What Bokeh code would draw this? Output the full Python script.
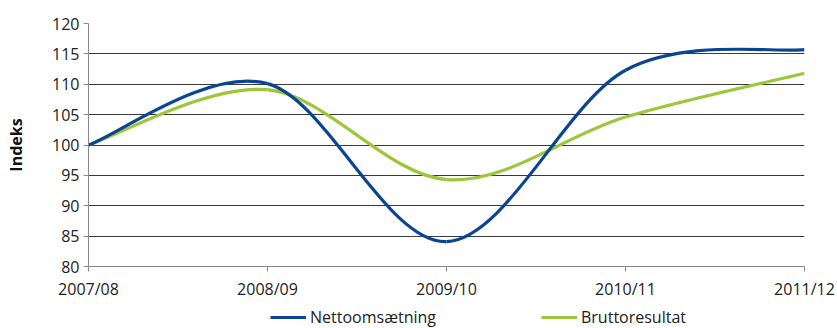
from bokeh.plotting import figure
from bokeh.layouts import column
from bokeh.models import (Range1d, FixedTicker, Legend, LegendItem, ColumnDataSource)
from bokeh.embed import file_html
from bokeh.resources import INLINE

categories = ["2007/08", "2008/09", "2009/10", "2010/11", "2011/12"]
netto = [100.0, 110.1, 84.1, 112.3, 115.7]
brutto = [100.0, 109.1, 94.3, 104.6, 111.8]
y_ticks = [80, 85, 90, 95, 100, 105, 110, 115, 120]
series_names = ["Nettoomsætning", "Bruttoresultat"]

BLUE = "#0a4592"
GREEN = "#9dc63a"
FONT = "Open Sans"

xs = list(range(len(categories)))


def bezier_source(ys):
    """Excel-style smoothed line: cubic Bezier segments through the data points."""
    n = len(ys)
    d = dict(x0=[], y0=[], x1=[], y1=[], cx0=[], cy0=[], cx1=[], cy1=[])
    for i in range(n - 1):
        p0 = (xs[max(i - 1, 0)], ys[max(i - 1, 0)])
        p1 = (xs[i], ys[i])
        p2 = (xs[i + 1], ys[i + 1])
        p3 = (xs[min(i + 2, n - 1)], ys[min(i + 2, n - 1)])
        d["x0"].append(p1[0]); d["y0"].append(p1[1])
        d["x1"].append(p2[0]); d["y1"].append(p2[1])
        d["cx0"].append(p1[0] + (p2[0] - p0[0]) / 6)
        d["cy0"].append(p1[1] + (p2[1] - p0[1]) / 6)
        d["cx1"].append(p2[0] - (p3[0] - p1[0]) / 6)
        d["cy1"].append(p2[1] - (p3[1] - p1[1]) / 6)
    return ColumnDataSource(d)


p = figure(width=837, height=303, output_backend="svg", toolbar_location=None,
           x_range=Range1d(0, 4), y_range=Range1d(80, 120),
           min_border_left=88, min_border_right=33, min_border_top=23,
           min_border_bottom=37)
p.outline_line_color = None
p.background_fill_color = "white"

p.xgrid.grid_line_color = None
p.ygrid.grid_line_color = "#3a3a3a"
p.ygrid.grid_line_width = 1
p.ygrid.ticker = FixedTicker(ticks=y_ticks)

p.yaxis.ticker = FixedTicker(ticks=y_ticks)
p.xaxis.ticker = FixedTicker(ticks=xs)
p.xaxis.major_label_overrides = {i: c for i, c in enumerate(categories)}

for ax in (p.xaxis[0], p.yaxis[0]):
    ax.axis_line_color = "#8a8a8a"
    ax.major_tick_line_color = "#8a8a8a"
    ax.major_tick_in = 0
    ax.major_tick_out = 5
    ax.minor_tick_line_color = None
    ax.major_label_text_font = FONT
    ax.major_label_text_font_size = "16px"
    ax.major_label_text_color = "#222222"

p.xaxis.major_label_standoff = 6
p.yaxis.major_label_standoff = 4
p.yaxis.axis_label = "Indeks"
p.yaxis.axis_label_text_font = FONT
p.yaxis.axis_label_text_font_style = "bold"
p.yaxis.axis_label_text_font_size = "16px"
p.yaxis.axis_label_text_color = "#111111"
p.yaxis.axis_label_standoff = 22

p.bezier(x0="x0", y0="y0", x1="x1", y1="y1", cx0="cx0", cy0="cy0", cx1="cx1", cy1="cy1",
         source=bezier_source(brutto), line_color=GREEN, line_width=3.2)
p.bezier(x0="x0", y0="y0", x1="x1", y1="y1", cx0="cx0", cy0="cy0", cx1="cx1", cy1="cy1",
         source=bezier_source(netto), line_color=BLUE, line_width=3.2)

# legend strip below the chart (its frame is aligned with the chart's frame)
pl = figure(width=837, height=25, output_backend="svg", toolbar_location=None,
            x_range=Range1d(0, 1), y_range=Range1d(0, 1),
            x_axis_location=None, y_axis_location=None,
            min_border_left=0, min_border_right=0, min_border_top=0, min_border_bottom=0)
pl.outline_line_color = None
pl.xgrid.grid_line_color = None
pl.ygrid.grid_line_color = None

# series drawn outside this strip's visible range: only their legend glyphs show
lb = pl.line(xs, netto, line_color=BLUE, line_width=3.2)
lg = pl.line(xs, brutto, line_color=GREEN, line_width=3.2)

legend = Legend(items=[LegendItem(label=series_names[0], renderers=[lb]),
                       LegendItem(label=series_names[1], renderers=[lg])],
                orientation="horizontal", location=(182, 0),
                glyph_width=36, glyph_height=18, label_standoff=4, spacing=105,
                padding=0, margin=0, border_line_color=None,
                background_fill_alpha=0,
                label_text_font=FONT, label_text_font_size="16px",
                label_text_color="#222222")
pl.add_layout(legend, "center")

layout = column(p, pl, spacing=0)
open("out.html", "w").write(file_html(layout, INLINE))
